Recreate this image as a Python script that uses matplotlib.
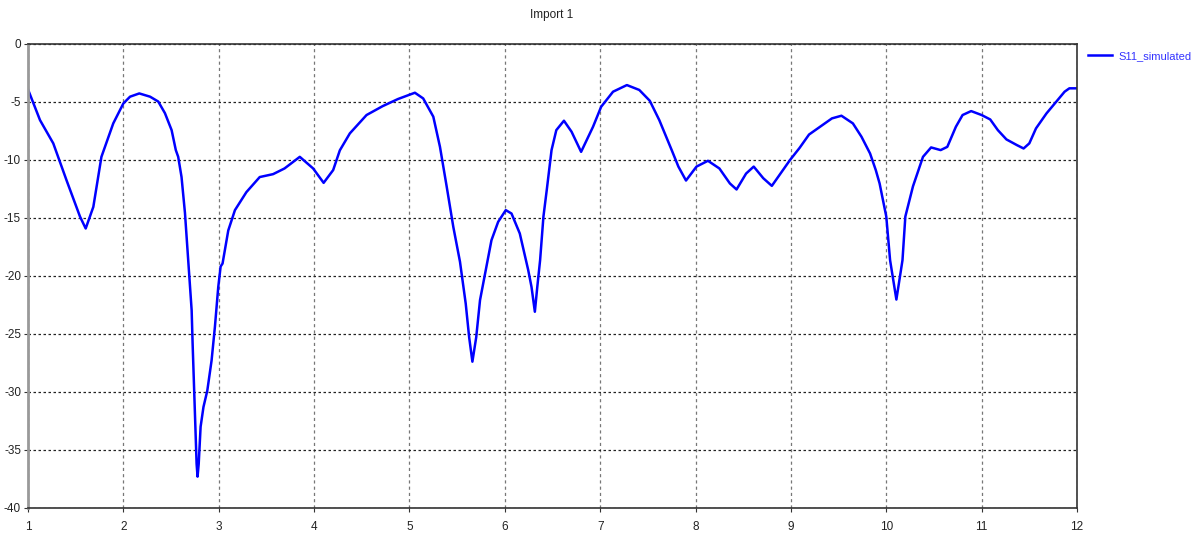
import numpy as np
import matplotlib
matplotlib.use("Agg")
from matplotlib import pyplot as plt

# frequency (GHz) and S11 (dB) of the simulated response
freq = [1.0, 1.126, 1.265, 1.405, 1.545, 1.605, 1.685, 1.77, 1.894, 2.0,
        2.07, 2.167, 2.28, 2.366, 2.436, 2.506, 2.55, 2.575, 2.61, 2.646,
        2.68, 2.716, 2.726, 2.744, 2.758, 2.768, 2.778, 2.79, 2.81, 2.84,
        2.88, 2.925, 2.96, 2.995, 3.02, 3.04, 3.1, 3.17, 3.29, 3.43,
        3.57, 3.69, 3.85, 3.99, 4.10, 4.2, 4.27, 4.375, 4.55, 4.72,
        4.88, 5.057, 5.144, 5.25, 5.32, 5.39, 5.46, 5.53, 5.59, 5.626,
        5.66, 5.70, 5.74, 5.80, 5.86, 5.93, 6.01, 6.07, 6.157, 6.245,
        6.28, 6.315, 6.34, 6.37, 6.405, 6.44, 6.49, 6.54, 6.62, 6.70,
        6.80, 6.925, 7.01, 7.135, 7.28, 7.41, 7.52, 7.62, 7.75, 7.82,
        7.90, 8.01, 8.13, 8.25, 8.36, 8.43, 8.53, 8.61, 8.71, 8.80,
        8.99, 9.09, 9.19, 9.33, 9.43, 9.53, 9.65, 9.74, 9.83, 9.89,
        9.93, 10.0, 10.04, 10.106, 10.17, 10.2, 10.28, 10.385, 10.47, 10.57,
        10.64, 10.73, 10.80, 10.89, 11.0, 11.09, 11.17, 11.26, 11.37, 11.44,
        11.5, 11.57, 11.68, 11.79, 11.87, 11.92, 12.0]
s11 = [-3.95, -6.6, -8.6, -11.8, -14.9, -15.93, -14.07, -9.76, -6.88, -5.16,
       -4.58, -4.3, -4.58, -5.0, -6.0, -7.46, -9.18, -9.76, -11.5, -14.6,
       -18.66, -22.97, -25.8, -30.2, -33.6, -36.2, -37.3, -36.2, -33.0, -31.3,
       -29.9, -27.3, -24.4, -20.97, -19.2, -18.95, -16.1, -14.35, -12.8, -11.5,
       -11.25, -10.76, -9.76, -10.76, -12.0, -10.9, -9.2, -7.74, -6.16, -5.39,
       -4.78, -4.24, -4.73, -6.3, -8.9, -12.3, -15.8, -18.8, -22.4, -25.3,
       -27.4, -25.3, -22.1, -19.5, -16.94, -15.36, -14.35, -14.64, -16.36, -19.5,
       -20.97, -23.1, -21.0, -18.66, -14.9, -12.6, -9.18, -7.46, -6.65, -7.6,
       -9.33, -7.17, -5.45, -4.15, -3.58, -4.0, -4.93, -6.6, -9.18, -10.6,
       -11.8, -10.6, -10.1, -10.76, -12.05, -12.57, -11.2, -10.6, -11.6, -12.26,
       -10.04, -9.0, -7.84, -7.03, -6.45, -6.22, -6.88, -8.03, -9.47, -10.9,
       -12.05, -14.9, -18.66, -22.05, -18.66, -14.9, -12.3, -9.76, -8.95, -9.18,
       -8.9, -7.17, -6.16, -5.82, -6.16, -6.54, -7.46, -8.26, -8.75, -9.04,
       -8.6, -7.31, -6.02, -4.93, -4.15, -3.86, -3.86]

x_ticks = list(range(1, 13))
y_ticks = list(range(-40, 1, 5))

plt.rcParams['font.family'] = ['Liberation Sans', 'DejaVu Sans']
plt.rcParams['axes.unicode_minus'] = False
fsize = 8.5

fig = plt.figure(figsize=(11.94, 5.34), dpi=100)
ax = fig.add_axes([28/1194, 1 - 508/534, (1077 - 28)/1194, (508 - 43.5)/534])

ax.plot(freq, s11, color='#0000ff', lw=1.8, label='S11_simulated')

ax.set_xlim(1, 12)
ax.set_ylim(-40, 0)
ax.set_xticks(x_ticks)
ax.set_yticks(y_ticks)
ax.tick_params(labelsize=fsize, length=3, width=0.8, color='#333333', pad=2,
               labelcolor='#222222')
ax.tick_params(axis='x', pad=6)
ax.xaxis.grid(True, ls=(0, (2.5, 2.5)), color='#777777', lw=0.9)
ax.yaxis.grid(True, ls=(0, (2, 2)), color='#222222', lw=0.9)

for side in ['top', 'right', 'bottom']:
    ax.spines[side].set_color('#333333')
    ax.spines[side].set_linewidth(1.2)
ax.spines['left'].set_color('#999999')
ax.spines['left'].set_linewidth(2)

fig.text(552/1194, 1 - 15/534, 'Import 1', ha='center', va='center', fontsize=fsize,
         color='#222222')

# legend sits just right of the plot frame
leg = ax.legend(loc='upper left', bbox_to_anchor=(1088/1194, 1 - 51/534),
                bbox_transform=fig.transFigure, frameon=False, fontsize=8,
                handlelength=2.2, handletextpad=0.5, borderpad=0, borderaxespad=0)
for t in leg.get_texts():
    t.set_color('#3333ff')

fig.savefig('out.png', dpi=100)
